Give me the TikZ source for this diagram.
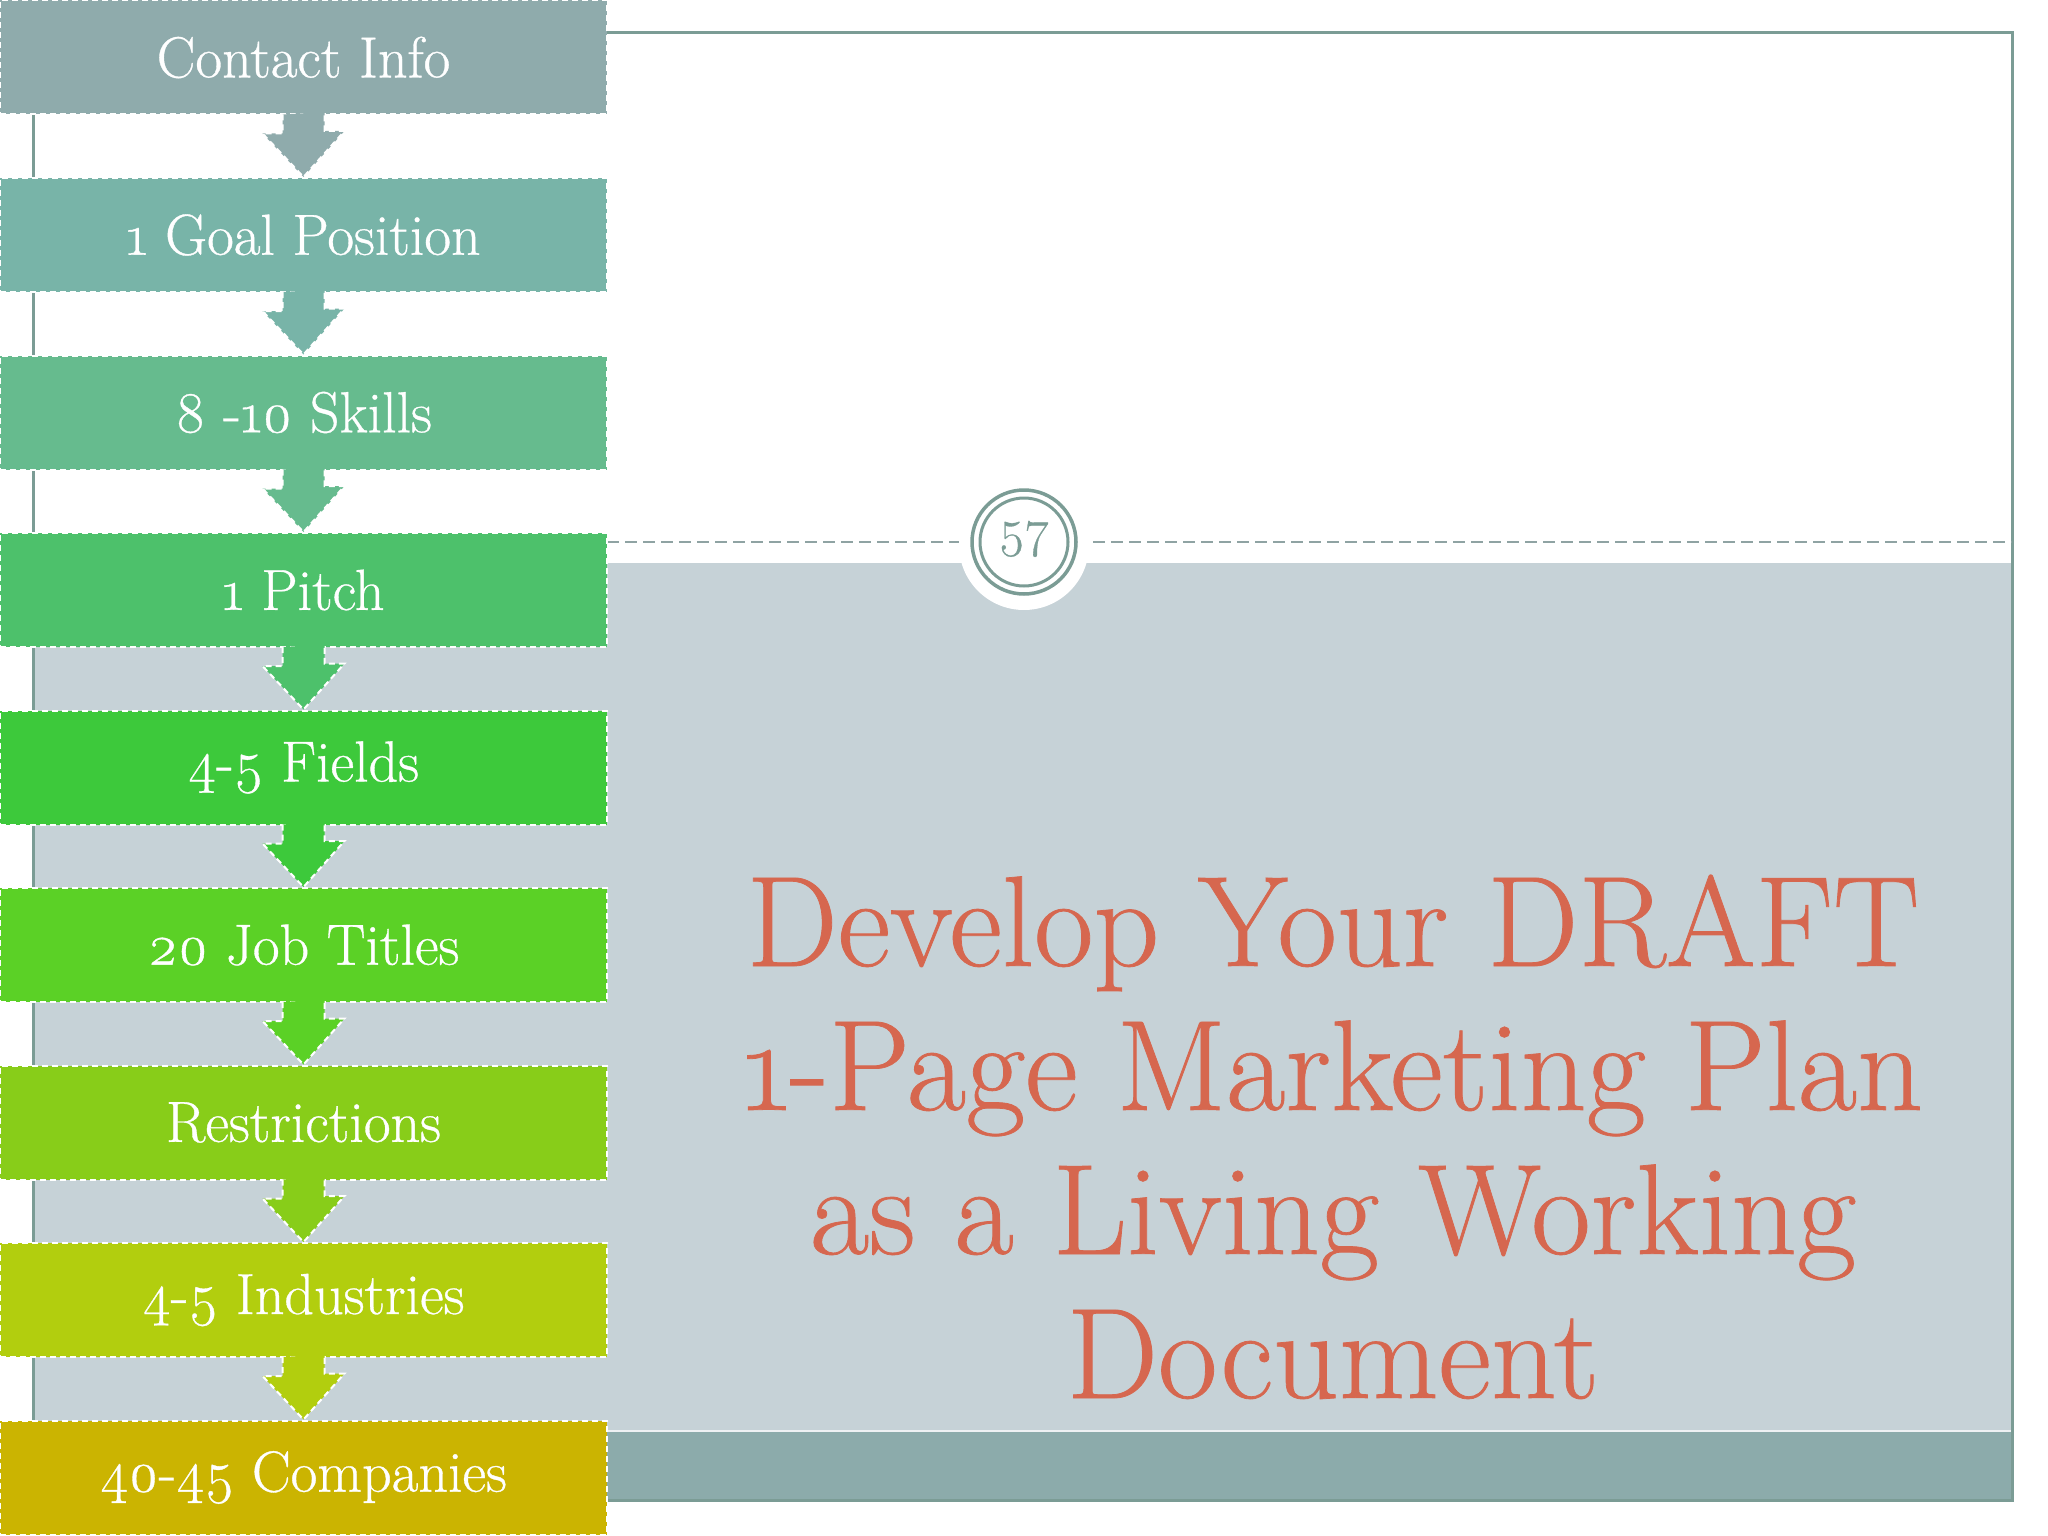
\documentclass[tikz,border=0pt]{standalone}
\usepackage{fontspec}
\setmainfont{Latin Modern Roman}[Numbers=OldStyle, UprightFeatures={FakeBold=0.6}]
\definecolor{c1}{HTML}{8FABAC}
\definecolor{c2}{HTML}{78B4A8}
\definecolor{c3}{HTML}{66BB8E}
\definecolor{c4}{HTML}{4DC16B}
\definecolor{c5}{HTML}{3DC93B}
\definecolor{c6}{HTML}{5BD126}
\definecolor{c7}{HTML}{88CD19}
\definecolor{c8}{HTML}{B2CE0E}
\definecolor{c9}{HTML}{CBB401}
\definecolor{panel}{HTML}{C6D2D7}
\definecolor{band}{HTML}{8CABAB}
\definecolor{frame}{HTML}{7B9C95}
\definecolor{titlec}{HTML}{D6674F}
\definecolor{dashc}{HTML}{8FA3A3}
\tikzset{
  stepbox/.style={minimum width=607pt, minimum height=114pt, inner sep=0pt,
    draw=white, dash pattern=on 6pt off 4pt, line width=2pt, text=white,
    font=\fontsize{58}{64}\selectfont},
  arrowpart/.style={draw=white, dash pattern=on 6pt off 4pt, line width=2pt},
  titletext/.style={text=titlec, anchor=base, inner sep=0pt,
    font=\fontsize{129}{144}\selectfont}
}
\begin{document}
\begin{tikzpicture}[x=1pt,y=-1pt]
\useasboundingbox (0,0) rectangle (2048,1536);
\fill[white] (0,0) rectangle (2048,1536);
\coordinate (ftl) at (33,33);
\coordinate (fbr) at (2012,1500);
% panel
\fill[panel] (33,563) rectangle (2012,1431);
\fill[band] (33,1431) rectangle (2012,1500);
\draw[white!70!panel, line width=1.5pt] (33,1431) -- (2012,1431);
\draw[frame, line width=3pt] (ftl) rectangle (fbr);
% page number
\node[circle, minimum size=80pt, inner sep=0pt] (num) at (1024,542) {};
\draw[dashc, line width=2pt, dash pattern=on 12pt off 6pt] (607,542) -- (num.center -| fbr);
\fill[white] (1024,545) circle[radius=65pt];
\draw[frame, line width=3.5pt] (num.center) circle[radius=52pt];
\draw[frame, line width=3pt] (num.center) circle[radius=44pt];
\node[text=frame, font=\fontsize{52}{56}\selectfont, inner sep=0pt] at ([yshift=3pt]num.center) {57};
% title
\node[titletext] (t1) at (1333,966) {Develop Your DRAFT};
\node[titletext] (t2) at (1333,1110) {1-Page Marketing Plan};
\node[titletext] (t3) at (1333,1254) {as a Living Working};
\node[titletext] (t4) at (1333,1398) {Document};
% boxes
\node[stepbox, fill=c1] (b1) at (303.5,57.5) {Contact Info};
\node[stepbox, fill=c2] (b2) at (303.5,235) {1 Goal Position};
\node[stepbox, fill=c3] (b3) at (303.5,412.5) {8 -10 Skills};
\node[stepbox, fill=c4] (b4) at (303.5,590) {1 Pitch};
\node[stepbox, fill=c5] (b5) at (303.5,767.5) {4-5 Fields};
\node[stepbox, fill=c6] (b6) at (303.5,945) {20 Job Titles};
\node[stepbox, fill=c7] (b7) at (303.5,1122.5) {Restrictions};
\node[stepbox, fill=c8] (b8) at (303.5,1300) {4-5 Industries};
\node[stepbox, fill=c9] (b9) at (303.5,1477.5) {40-45 Companies};
% arrows
\foreach \i [evaluate=\i as \j using int(\i+1)] in {1,...,8} {
  \path[arrowpart, fill=c\i] ([xshift=-21pt,yshift=1pt]b\i.south) -- ++(0,19) -- ++(-20,0)
     -- (b\j.north) -- ++(41,-46) -- ++(-20,0) -- ++(0,-19);
}
\end{tikzpicture}
\end{document}
